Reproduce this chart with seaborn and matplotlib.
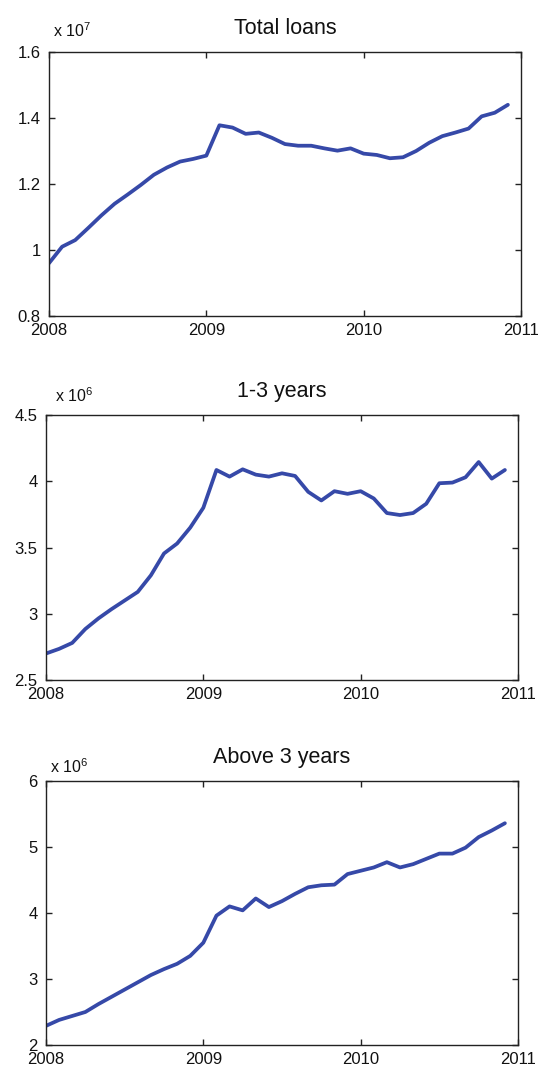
import matplotlib
matplotlib.use("Agg")
import matplotlib.pyplot as plt
import matplotlib.ticker as mticker
import numpy as np
import pandas as pd
import seaborn as sns

# Monthly observations, Jan 2008 - Dec 2010
months = pd.date_range("2008-01-01", periods=36, freq="MS")
time_axis = months.year + (months.month - 1) / 12.0

# Total loans (x 10^7)
total_loans = [0.960, 1.010, 1.030, 1.067, 1.105, 1.140, 1.168, 1.197, 1.228, 1.250,
               1.268, 1.276, 1.286, 1.378, 1.371, 1.352, 1.356, 1.340, 1.321, 1.316,
               1.316, 1.308, 1.301, 1.308, 1.292, 1.288, 1.278, 1.281, 1.300, 1.325,
               1.345, 1.356, 1.368, 1.405, 1.416, 1.440]

# 1-3 years (x 10^6)
one_to_three = [2.700, 2.735, 2.780, 2.885, 2.965, 3.035, 3.100, 3.165, 3.290, 3.455,
                3.530, 3.650, 3.800, 4.085, 4.035, 4.090, 4.050, 4.035, 4.060, 4.040,
                3.920, 3.855, 3.925, 3.905, 3.925, 3.870, 3.760, 3.745, 3.760, 3.830,
                3.985, 3.990, 4.030, 4.145, 4.020, 4.085]

# Above 3 years (x 10^6)
above_three = [2.29, 2.38, 2.44, 2.50, 2.62, 2.73, 2.84, 2.95, 3.06, 3.15,
               3.23, 3.35, 3.55, 3.96, 4.10, 4.04, 4.22, 4.09, 4.18, 4.29,
               4.39, 4.42, 4.43, 4.59, 4.64, 4.69, 4.77, 4.69, 4.74, 4.82,
               4.90, 4.90, 4.99, 5.15, 5.25, 5.36]

titles = ["Total loans", "1-3 years", "Above 3 years"]
exponents = [7, 6, 6]
y_ticks = [[0.8, 1.0, 1.2, 1.4, 1.6],
           [2.5, 3.0, 3.5, 4.0, 4.5],
           [2, 3, 4, 5, 6]]
x_ticks = [2008, 2009, 2010, 2011]

sns.set_style("ticks")
plt.rcParams["font.family"] = ["Liberation Sans", "DejaVu Sans"]
plt.rcParams["mathtext.fontset"] = "custom"
plt.rcParams["mathtext.rm"] = "Liberation Sans"
plt.rcParams["mathtext.default"] = "regular"

W, H = 542, 1073
fig = plt.figure(figsize=(W / 100, H / 100), dpi=100)
fig.patch.set_facecolor("white")

# axes boxes in pixel units: left, top, right, bottom
boxes = [(49, 52, 521, 316), (46, 415, 518, 680), (46, 781, 518, 1045)]
# position of the scale note above each box (left, baseline)
notes = [(53, 37), (55, 402), (50, 773)]

series = [total_loans, one_to_three, above_three]
line_color = "#3649a8"

for i, (vals, box) in enumerate(zip(series, boxes)):
    l, t, r, b = box
    ax = fig.add_axes([l / W, 1 - b / H, (r - l) / W, (b - t) / H])
    df = pd.DataFrame({"t": time_axis, "v": vals})
    sns.lineplot(data=df, x="t", y="v", ax=ax, color=line_color, linewidth=2.7)
    ax.set_xlim(2008, 2011)
    ax.set_ylim(y_ticks[i][0], y_ticks[i][-1])
    ax.set_xticks(x_ticks)
    ax.set_yticks(y_ticks[i])
    ax.xaxis.set_major_formatter(mticker.FuncFormatter(lambda v, p: f"{int(round(v))}"))
    ax.yaxis.set_major_formatter(mticker.FuncFormatter(lambda v, p: f"{v:g}"))
    ax.set_xlabel("")
    ax.set_ylabel("")
    ax.tick_params(direction="in", length=4, width=1.0, color="#222222",
                   labelsize=12, labelcolor="#111111", top=True, right=True,
                   labeltop=False, labelright=False)
    ax.tick_params(axis="x", pad=5)
    ax.tick_params(axis="y", pad=6)
    for s in ax.spines.values():
        s.set_visible(True)
        s.set_linewidth(1.0)
        s.set_color("#222222")
    ax.set_title(titles[i], fontsize=15.5, pad=13, color="#111111")
    nx, ny = notes[i]
    fig.text(nx / W, 1 - ny / H, f"x 10$^{{{exponents[i]}}}$", fontsize=11.5,
             color="#111111", ha="left", va="baseline")

fig.savefig("out.png", dpi=100, facecolor="white")
